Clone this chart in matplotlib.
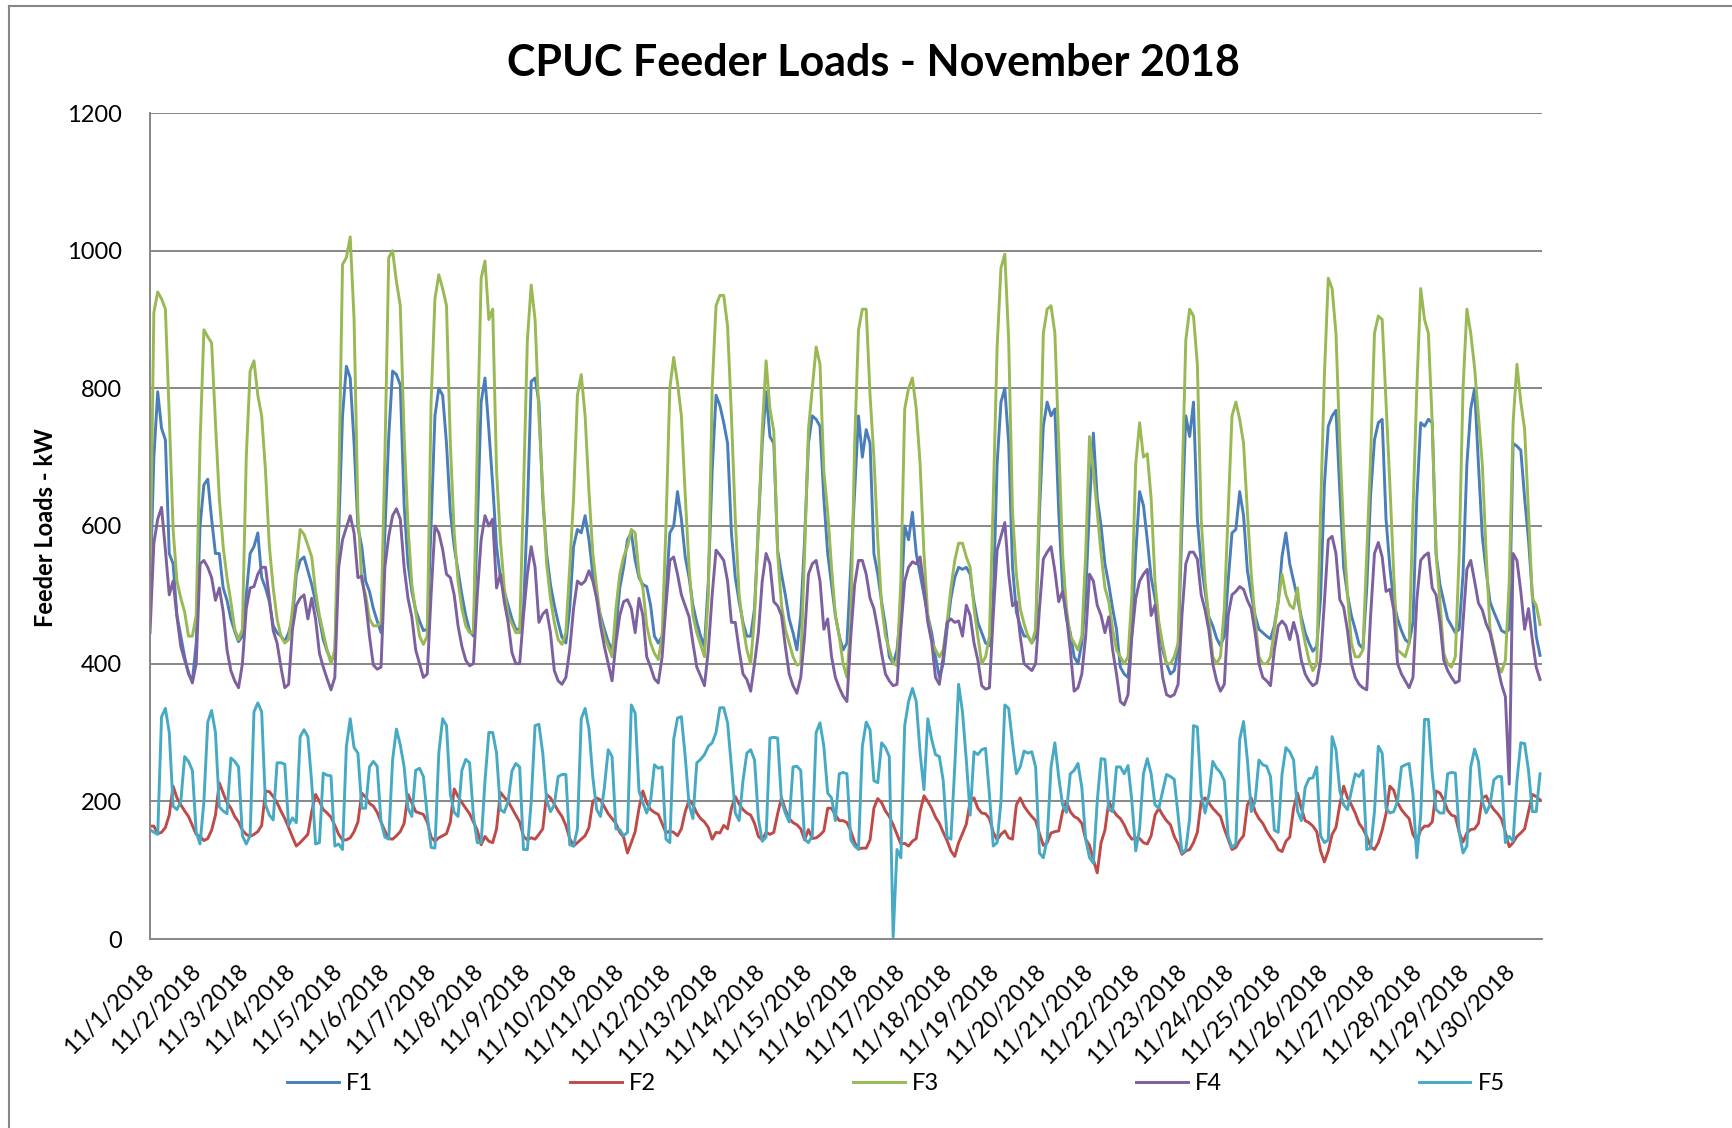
import numpy as np
import matplotlib.pyplot as plt
from matplotlib.lines import Line2D
from matplotlib.transforms import ScaledTranslation

plt.rcParams['font.family'] = ['Lato', 'DejaVu Sans']

# Feeder loads in kW, every 2 hours.
# One row per day (00h ... 22h), last row holds the final two samples.
f1 = [
    500, 700, 795, 742, 725, 560, 545, 470, 440, 410, 385, 375,
    430, 600, 660, 668, 610, 560, 560, 510, 492, 465, 447, 432,
    440, 500, 560, 570, 590, 525, 510, 490, 455, 445, 440, 432,
    445, 465, 530, 550, 555, 535, 515, 490, 465, 435, 418, 405,
    410, 590, 760, 832, 815, 720, 598, 570, 520, 505, 480, 462,
    445, 590, 730, 825, 820, 805, 630, 545, 505, 478, 462, 448,
    450, 600, 760, 800, 790, 720, 620, 570, 535, 500, 470, 448,
    440, 600, 780, 815, 740, 660, 570, 525, 505, 485, 465, 450,
    450, 480, 620, 810, 815, 780, 640, 560, 515, 485, 460, 438,
    430, 480, 570, 595, 590, 615, 580, 530, 495, 470, 450, 432,
    420, 450, 510, 540, 580, 590, 550, 525, 515, 512, 485, 440,
    430, 440, 500, 590, 600, 650, 610, 555, 525, 485, 460, 440,
    425, 520, 680, 790, 775, 750, 720, 590, 525, 490, 460, 440,
    440, 480, 600, 720, 795, 730, 720, 565, 530, 500, 465, 445,
    420, 470, 580, 720, 760, 755, 745, 640, 560, 515, 470, 440,
    420, 430, 540, 650, 760, 700, 740, 720, 560, 530, 490, 455,
    410, 400, 420, 480, 600, 580, 620, 560, 530, 500, 470, 445,
    410, 380, 400, 450, 495, 525, 540, 537, 540, 530, 490, 460,
    445, 430, 426, 493, 690, 780, 800, 720, 540, 475, 455, 440,
    440, 430, 440, 620, 745, 780, 760, 770, 620, 510, 465, 445,
    410, 400, 430, 500, 630, 735, 640, 600, 545, 515, 480, 450,
    395, 385, 380, 445, 560, 650, 630, 580, 525, 495, 458, 420,
    400, 385, 390, 420, 600, 760, 730, 780, 610, 545, 505, 468,
    455, 437, 426, 440, 520, 590, 595, 650, 615, 535, 500, 470,
    450, 445, 440, 436, 455, 490, 556, 590, 545, 520, 495, 468,
    445, 430, 418, 425, 495, 660, 745, 760, 768, 650, 540, 500,
    470, 450, 428, 422, 510, 645, 725, 750, 755, 610, 540, 490,
    465, 448, 435, 430, 460, 640, 750, 745, 755, 750, 560, 515,
    490, 465, 455, 445, 450, 530, 690, 770, 800, 690, 585, 535,
    490, 475, 462, 448, 445, 450, 720, 716, 710, 640, 580, 500,
    440, 412,
]

f2 = [
    164, 164, 153, 155, 162, 180, 222, 205, 195, 186, 178, 165,
    152, 149, 143, 146, 158, 180, 227, 212, 198, 190, 178, 170,
    158, 152, 149, 152, 156, 165, 215, 214, 207, 198, 186, 175,
    162, 148, 135, 140, 146, 152, 185, 210, 200, 188, 183, 177,
    165, 152, 144, 144, 147, 156, 170, 212, 206, 197, 193, 184,
    170, 157, 146, 145, 150, 156, 168, 210, 198, 185, 183, 181,
    170, 148, 142, 147, 150, 153, 170, 218, 207, 198, 190, 182,
    170, 158, 137, 149, 142, 140, 160, 213, 206, 200, 190, 180,
    170, 149, 144, 147, 145, 152, 160, 210, 205, 196, 186, 178,
    165, 146, 135, 140, 145, 150, 162, 200, 205, 202, 192, 182,
    175, 168, 155, 148, 125, 140, 156, 190, 215, 198, 188, 184,
    181, 168, 154, 157, 155, 150, 160, 185, 202, 195, 183, 175,
    170, 162, 145, 155, 154, 165, 160, 190, 207, 196, 188, 183,
    180, 168, 149, 144, 155, 152, 155, 182, 205, 188, 175, 169,
    166, 160, 144, 159, 146, 147, 151, 157, 190, 190, 180, 172,
    172, 169, 157, 140, 131, 132, 132, 144, 190, 204, 198, 186,
    178, 166, 152, 138, 139, 135, 142, 146, 185, 208, 200, 190,
    177, 168, 155, 143, 128, 120, 140, 153, 167, 200, 205, 190,
    183, 182, 175, 155, 144, 152, 157, 147, 145, 195, 205, 193,
    185, 178, 172, 153, 136, 140, 154, 156, 157, 185, 200, 185,
    178, 175, 168, 145, 136, 115, 96, 140, 158, 200, 188, 180,
    175, 166, 153, 145, 147, 146, 140, 138, 150, 180, 190, 180,
    172, 166, 149, 138, 123, 128, 130, 140, 155, 200, 205, 198,
    190, 184, 178, 160, 145, 130, 133, 143, 150, 195, 205, 185,
    175, 168, 157, 148, 141, 130, 127, 142, 148, 190, 212, 190,
    172, 169, 164, 156, 128, 112, 128, 152, 162, 195, 222, 205,
    195, 183, 168, 160, 149, 134, 130, 140, 158, 182, 222, 216,
    198, 188, 181, 175, 152, 142, 158, 164, 164, 170, 215, 212,
    202, 187, 180, 178, 155, 141, 154, 159, 160, 168, 205, 208,
    196, 188, 182, 174, 155, 134, 140, 149, 154, 160, 185, 210,
    207, 202,
]

f3 = [
    510, 910, 940, 930, 915, 760, 595, 520, 495, 475, 440, 440,
    470, 720, 885, 875, 866, 750, 640, 570, 525, 490, 450, 435,
    450, 700, 825, 840, 790, 760, 680, 570, 510, 465, 440, 430,
    435, 480, 540, 595, 588, 572, 555, 505, 470, 445, 420, 400,
    420, 650, 980, 990, 1020, 900, 620, 520, 500, 465, 455, 455,
    460, 700, 990, 1000, 955, 920, 730, 600, 515, 475, 440, 428,
    440, 780, 930, 965, 945, 920, 720, 590, 520, 480, 455, 445,
    445, 720, 960, 985, 900, 915, 680, 580, 510, 470, 458, 445,
    445, 650, 870, 950, 900, 760, 650, 545, 495, 460, 435, 428,
    445, 540, 640, 790, 820, 760, 650, 560, 510, 465, 440, 425,
    410, 480, 530, 555, 570, 595, 590, 530, 510, 455, 430, 415,
    406, 440, 600, 800, 845, 808, 760, 645, 540, 470, 445, 428,
    410, 500, 800, 920, 935, 935, 890, 760, 610, 500, 455, 420,
    400, 470, 600, 740, 840, 770, 738, 560, 485, 450, 430, 410,
    398, 400, 560, 740, 800, 860, 835, 680, 620, 540, 470, 440,
    400, 380, 460, 720, 885, 915, 915, 790, 700, 580, 485, 440,
    420, 401, 397, 520, 770, 800, 815, 770, 690, 560, 470, 432,
    420, 410, 420, 460, 510, 550, 575, 575, 555, 540, 480, 440,
    400, 410, 440, 640, 860, 975, 995, 870, 620, 530, 480, 458,
    440, 430, 450, 650, 880, 915, 920, 880, 720, 560, 480, 440,
    430, 420, 440, 560, 730, 680, 620, 560, 510, 490, 450, 420,
    410, 400, 410, 500, 690, 750, 700, 705, 640, 520, 460, 428,
    400, 400, 410, 430, 650, 870, 915, 905, 835, 610, 520, 465,
    410, 400, 410, 480, 620, 760, 780, 755, 720, 620, 530, 465,
    410, 400, 400, 410, 450, 490, 530, 500, 485, 480, 510, 460,
    430, 405, 390, 400, 620, 820, 960, 945, 880, 720, 590, 500,
    430, 410, 410, 420, 560, 700, 880, 905, 900, 780, 660, 530,
    420, 415, 410, 430, 620, 800, 945, 900, 880, 750, 560, 490,
    415, 400, 395, 410, 560, 800, 915, 880, 830, 760, 690, 560,
    450, 425, 397, 388, 405, 520, 750, 835, 780, 740, 620, 495,
    485, 457,
]

f4 = [
    445, 575, 610, 627, 565, 500, 520, 468, 425, 405, 387, 372,
    400, 545, 550, 540, 525, 492, 510, 476, 420, 390, 375, 365,
    400, 480, 510, 512, 530, 540, 540, 495, 448, 430, 395, 365,
    370, 450, 485, 495, 500, 465, 495, 465, 415, 395, 378, 362,
    380, 540, 580, 598, 615, 590, 525, 527, 490, 440, 398, 392,
    395, 540, 585, 615, 625, 610, 540, 495, 468, 420, 400, 380,
    385, 500, 600, 590, 566, 530, 525, 500, 455, 425, 405, 397,
    400, 500, 580, 615, 600, 610, 510, 530, 490, 460, 416, 400,
    400, 470, 530, 570, 540, 460, 472, 478, 445, 390, 375, 370,
    380, 420, 480, 520, 515, 520, 535, 520, 495, 455, 425, 400,
    375, 430, 470, 490, 493, 480, 445, 495, 470, 410, 395, 378,
    372, 410, 485, 550, 555, 530, 500, 484, 468, 430, 395, 382,
    368, 420, 500, 565, 558, 550, 520, 460, 460, 420, 385, 377,
    360, 400, 445, 520, 560, 545, 490, 484, 470, 425, 385, 368,
    357, 380, 440, 530, 545, 550, 520, 450, 465, 410, 380, 365,
    353, 345, 440, 515, 550, 550, 530, 495, 480, 450, 415, 385,
    375, 368, 370, 450, 520, 540, 548, 545, 555, 510, 460, 432,
    380, 370, 410, 460, 465, 460, 462, 440, 485, 470, 430, 405,
    368, 363, 365, 470, 565, 585, 605, 530, 484, 490, 440, 400,
    395, 390, 400, 480, 552, 562, 570, 535, 490, 505, 470, 420,
    360, 365, 385, 440, 530, 520, 485, 470, 445, 468, 420, 385,
    345, 340, 355, 440, 495, 520, 530, 537, 470, 485, 430, 380,
    355, 352, 355, 370, 470, 545, 562, 562, 552, 500, 478, 448,
    400, 375, 360, 370, 470, 500, 505, 512, 508, 492, 480, 445,
    400, 380, 375, 368, 420, 455, 462, 455, 435, 460, 440, 405,
    385, 375, 368, 372, 405, 490, 580, 585, 560, 493, 482, 448,
    400, 380, 370, 365, 362, 470, 560, 576, 555, 505, 508, 478,
    400, 385, 375, 365, 380, 493, 550, 557, 561, 510, 500, 460,
    405, 390, 380, 372, 375, 460, 537, 550, 520, 488, 478, 458,
    445, 420, 395, 370, 352, 225, 560, 550, 505, 450, 480, 435,
    395, 377,
]

f5 = [
    159, 155, 152, 323, 335, 300, 193, 188, 200, 265, 258, 245,
    155, 138, 200, 315, 332, 300, 192, 186, 182, 263, 258, 250,
    150, 138, 150, 330, 343, 330, 195, 180, 173, 256, 256, 254,
    165, 176, 169, 294, 304, 294, 227, 138, 140, 241, 238, 237,
    135, 138, 130, 280, 320, 278, 270, 190, 190, 250, 258, 251,
    170, 148, 145, 260, 305, 282, 250, 190, 178, 245, 248, 236,
    180, 133, 132, 270, 320, 310, 210, 184, 178, 245, 261, 256,
    178, 140, 140, 230, 300, 300, 270, 188, 184, 200, 244, 255,
    250, 130, 130, 200, 310, 312, 270, 202, 185, 195, 236, 239,
    239, 137, 135, 160, 320, 335, 305, 235, 188, 178, 220, 275,
    265, 160, 159, 150, 155, 340, 328, 215, 198, 183, 200, 253,
    248, 250, 145, 140, 290, 321, 323, 265, 195, 175, 256, 261,
    268, 280, 285, 300, 336, 336, 314, 250, 183, 172, 230, 270,
    275, 260, 175, 142, 148, 292, 293, 292, 200, 183, 170, 250,
    251, 245, 145, 140, 150, 300, 314, 280, 212, 205, 172, 240,
    242, 240, 144, 135, 130, 280, 315, 304, 230, 227, 285, 278,
    265, 3, 130, 118, 310, 345, 364, 345, 270, 217, 320, 290,
    268, 265, 230, 148, 145, 250, 370, 330, 260, 180, 272, 268,
    275, 277, 210, 135, 140, 200, 340, 335, 285, 240, 250, 273,
    270, 272, 250, 125, 118, 145, 250, 285, 235, 195, 184, 240,
    245, 255, 220, 145, 118, 110, 200, 262, 261, 188, 185, 250,
    250, 240, 252, 200, 128, 160, 240, 262, 240, 195, 190, 215,
    239, 236, 232, 180, 125, 130, 175, 310, 308, 210, 183, 210,
    258, 248, 242, 230, 149, 133, 138, 290, 316, 260, 185, 200,
    260, 253, 251, 236, 158, 155, 240, 278, 272, 260, 186, 172,
    220, 233, 234, 250, 150, 140, 144, 294, 275, 215, 195, 188,
    215, 240, 236, 245, 130, 132, 185, 280, 270, 190, 183, 185,
    200, 250, 253, 255, 210, 118, 180, 319, 319, 240, 188, 183,
    183, 240, 242, 241, 155, 125, 135, 250, 276, 258, 200, 183,
    195, 231, 236, 236, 140, 149, 142, 230, 285, 284, 245, 185,
    185, 240,
]

names = ['F1', 'F2', 'F3', 'F4', 'F5']
colors = ['#4A7EBB', '#BE4B48', '#98B954', '#7D60A0', '#46AAC5']
dates = [f'11/{d}/2018' for d in range(1, 31)]

n_hours = 712  # hourly categories on the x axis, a label every 24
grid_col = '#878787'

fig = plt.figure(figsize=(17.32, 11.28), dpi=100)
ax = fig.add_axes([150 / 1732, 1 - 939 / 1128, 1392 / 1732, 826 / 1128])

x = np.linspace(0, n_hours - 1, len(f1))
for name, vals, col in zip(names, [f1, f2, f3, f4, f5], colors):
    ax.plot(x, vals, color=col, lw=2.1, label=name, solid_joinstyle='round')

ax.set_xlim(0, n_hours)
ax.set_ylim(0, 1200)
ax.set_yticks(range(0, 1201, 200))
ax.yaxis.grid(True, color=grid_col, lw=1.4)
ax.set_axisbelow(True)
for s in ['top', 'right']:
    ax.spines[s].set_visible(False)
for s in ['left', 'bottom']:
    ax.spines[s].set_color(grid_col)
    ax.spines[s].set_linewidth(1.4)

ax.set_xticks(np.arange(len(dates)) * 24)
ax.set_xticklabels(dates, rotation=45, ha='right', va='center',
                   rotation_mode='anchor', fontsize=17)
ax.tick_params(axis='both', length=0)
ax.tick_params(axis='y', pad=20, labelsize=17)
ax.tick_params(axis='x', pad=21)
shift = ScaledTranslation(1 / 100, 0, fig.dpi_scale_trans)
for lab in ax.get_xticklabels():
    lab.set_transform(lab.get_transform() + shift)

fig.text(873 / 1732, 1 - 76 / 1128, 'CPUC Feeder Loads - November 2018',
         ha='center', va='baseline', fontsize=31, fontweight='bold')
fig.text(46 / 1732, 1 - 528 / 1128, 'Feeder Loads - kW', rotation=90,
         ha='center', va='center', fontsize=17, fontweight='bold')

fig.legend(loc='center', bbox_to_anchor=(896 / 1732, 1 - 1084 / 1128),
           ncol=5, frameon=False, fontsize=17, handlelength=2.2,
           handletextpad=0.3, columnspacing=8.33)

# chart border (only the top and left edges are inside the picture)
fig.add_artist(Line2D([8.5 / 1732, 8.5 / 1732], [0, 1 - 5.7 / 1128],
                      color=grid_col, lw=1.5, transform=fig.transFigure))
fig.add_artist(Line2D([8.5 / 1732, 1], [1 - 5.7 / 1128, 1 - 5.7 / 1128],
                      color=grid_col, lw=1.5, transform=fig.transFigure))

fig.savefig('out.png', dpi=100)
